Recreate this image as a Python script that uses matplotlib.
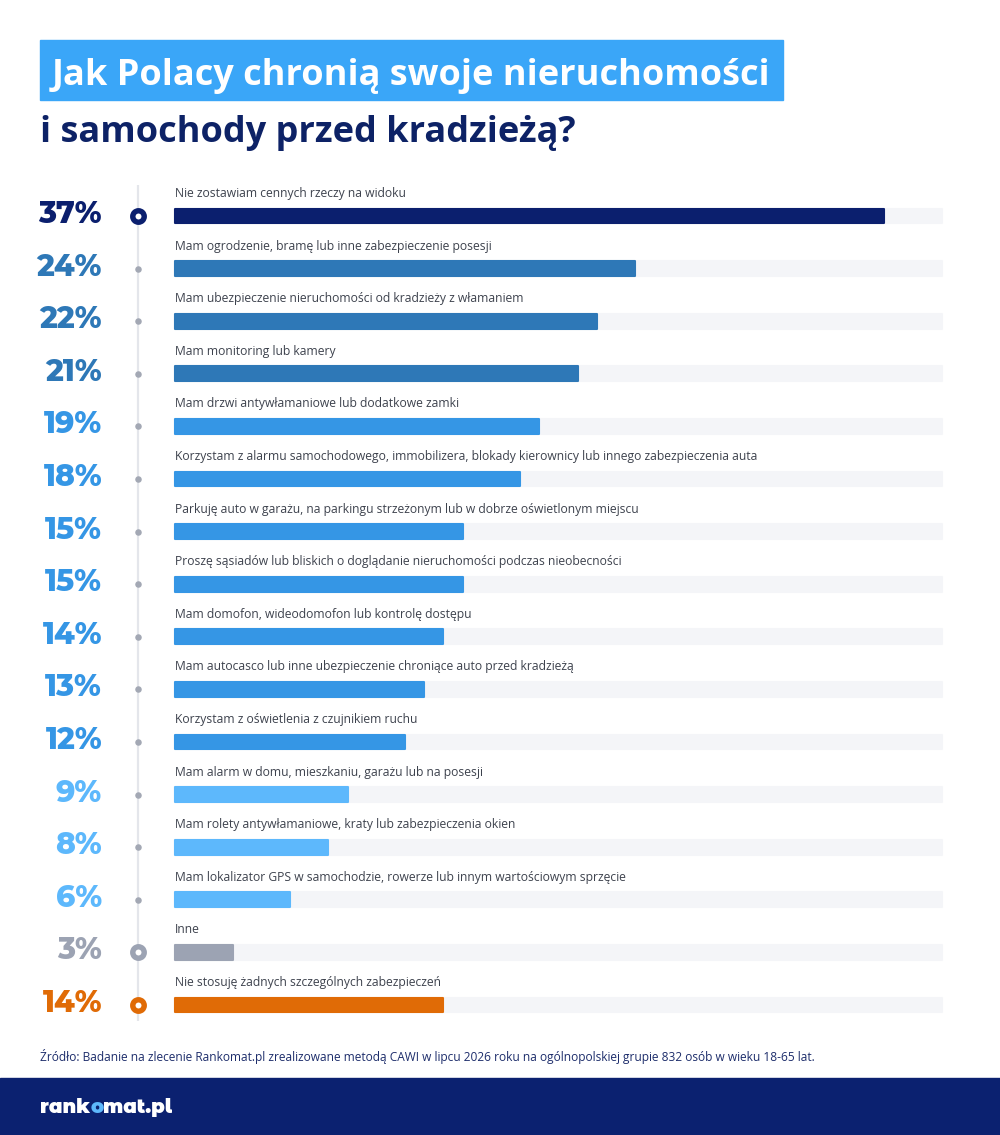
import matplotlib
matplotlib.use("Agg")
import matplotlib.pyplot as plt
from matplotlib.patches import Rectangle

W, H = 1000, 1135

labels = [
    "Nie zostawiam cennych rzeczy na widoku",
    "Mam ogrodzenie, bramę lub inne zabezpieczenie posesji",
    "Mam ubezpieczenie nieruchomości od kradzieży z włamaniem",
    "Mam monitoring lub kamery",
    "Mam drzwi antywłamaniowe lub dodatkowe zamki",
    "Korzystam z alarmu samochodowego, immobilizera, blokady kierownicy lub innego zabezpieczenia auta",
    "Parkuję auto w garażu, na parkingu strzeżonym lub w dobrze oświetlonym miejscu",
    "Proszę sąsiadów lub bliskich o doglądanie nieruchomości podczas nieobecności",
    "Mam domofon, wideodomofon lub kontrolę dostępu",
    "Mam autocasco lub inne ubezpieczenie chroniące auto przed kradzieżą",
    "Korzystam z oświetlenia z czujnikiem ruchu",
    "Mam alarm w domu, mieszkaniu, garażu lub na posesji",
    "Mam rolety antywłamaniowe, kraty lub zabezpieczenia okien",
    "Mam lokalizator GPS w samochodzie, rowerze lub innym wartościowym sprzęcie",
    "Inne",
    "Nie stosuję żadnych szczególnych zabezpieczeń",
]
values = [37, 24, 22, 21, 19, 18, 15, 15, 14, 13, 12, 9, 8, 6, 3, 14]

NAVY = "#0b1f6e"
MID = "#2e78b7"
BLUE = "#3596e5"
LIGHT = "#5db8fc"
GREY = "#9ca3b3"
ORANGE = "#e06b06"
colors = [NAVY] + [MID] * 3 + [BLUE] * 7 + [LIGHT] * 3 + [GREY, ORANGE]
ring = [True] + [False] * 13 + [True, True]

TRACK_MAX = 40

fig = plt.figure(figsize=(W / 100, H / 100), dpi=100)
fig.patch.set_facecolor("white")

# axes placed in pixels: x=0 at 175px, x=40 at 942px; row pitch 52.6px
sx = (942 - 175) / TRACK_MAX
pitch = 52.6
left_px, right_px, top_px, bot_px = 20, 980, 170, 1040
ax = fig.add_axes([left_px / W, 1 - bot_px / H, (right_px - left_px) / W, (bot_px - top_px) / H])
ax.set_xlim((left_px - 175) / sx, (right_px - 175) / sx)
ax.set_ylim((bot_px - 216) / pitch, (top_px - 216) / pitch)
ax.axis("off")

n = len(values)
ypos = list(range(n))
bh = 0.285

ax.barh(ypos, [TRACK_MAX] * n, height=bh, color="#f4f5f8", edgecolor="#f4f5f8",
        linewidth=1.5, joinstyle="round", zorder=1)
ax.barh(ypos, values, height=bh, color=colors, edgecolor=colors,
        linewidth=1.5, joinstyle="round", zorder=2)

# timeline
x_line = (138 - 175) / sx
ax.plot([x_line, x_line], [-0.59, 15.3], color="#e4e6eb", lw=1.6, zorder=1, solid_capstyle="butt")
for i in range(n):
    if ring[i]:
        ax.scatter(x_line, i, s=68, facecolor="white", edgecolor=colors[i], linewidth=3.9, zorder=3)
    else:
        ax.scatter(x_line, i, s=22, color="#a3a8b4", linewidth=0, zorder=3)

x_pct = (102 - 175) / sx
for i in range(n):
    ax.text(0, i - 0.361, labels[i], fontsize=8.7, family="Open Sans", color="#3d424d",
            va="baseline", ha="left")
    ax.text(x_pct, i - 0.03, "%d%%" % values[i], fontsize=21.5, family="Montserrat Alternates",
            fontweight=800, color=colors[i], va="center", ha="right")

# title
fig.patches.append(Rectangle((40 / W, 1 - 100 / H), (783 - 40) / W, 60 / H,
                             transform=fig.transFigure, color="#3aa6f8", zorder=0))
fig.text(52 / W, 1 - 85 / H, "Jak Polacy chronią swoje nieruchomości", fontsize=26,
         family="Open Sans", fontweight=700, color="white", va="baseline")
fig.text(40 / W, 1 - 142 / H, "i samochody przed kradzieżą?", fontsize=26,
         family="Open Sans", fontweight=700, color="#0d2266", va="baseline")

# source + footer
fig.text(40 / W, 1 - 1060.5 / H,
         "Źródło: Badanie na zlecenie Rankomat.pl zrealizowane metodą CAWI w lipcu 2026 roku "
         "na ogólnopolskiej grupie 832 osób w wieku 18-65 lat.",
         fontsize=8.6, family="Open Sans", color="#1d2d6b", va="baseline")
fig.patches.append(Rectangle((0, 0), 1, (H - 1078) / H, transform=fig.transFigure,
                             color="#0b2170", zorder=0))

# logo, the "o" drawn in light blue
renderer = fig.canvas.get_renderer()
x0 = 40 / W
for part, col in [("rank", "white"), ("o", "#5db8fc"), ("mat.pl", "white")]:
    t = fig.text(x0, 1 - 1113 / H, part, fontsize=14, family="Montserrat Alternates",
                 fontweight=900, color=col, va="baseline")
    bb = t.get_window_extent(renderer)
    x0 += bb.width / W

fig.savefig("out.png", dpi=100, facecolor="white")
